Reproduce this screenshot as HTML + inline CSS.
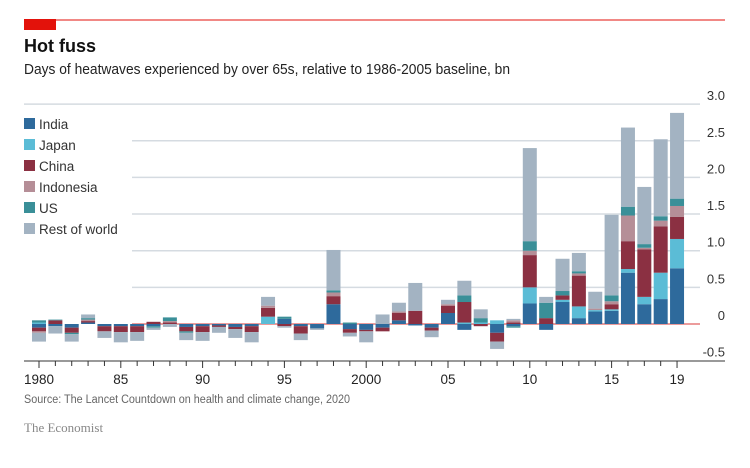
<!DOCTYPE html>
<html><head><meta charset="utf-8"><style>
body{margin:0;background:#fff;font-family:"Liberation Sans",sans-serif;}
svg{display:block}
</style></head><body>
<svg id="chart" width="750" height="468">
  <rect x="24" y="19" width="32" height="11" fill="#e3120b"/>
  <line x1="24" y1="20" x2="725" y2="20" stroke="#e3120b" stroke-width="1"/>
  <text x="24" y="52" font-size="18" font-weight="bold" fill="#111">Hot fuss</text>
  <text x="24" y="74" font-size="14.5" fill="#222" textLength="486" lengthAdjust="spacingAndGlyphs">Days of heatwaves experienced by over 65s, relative to 1986-2005 baseline, bn</text>
  <g id="grid"></g>
  <g id="bars"></g>
  <g id="axis"></g>
  <g id="legend"></g>
  <text x="24" y="403" font-size="11.5" fill="#666" textLength="326" lengthAdjust="spacingAndGlyphs">Source: The Lancet Countdown on health and climate change, 2020</text>
  <text x="24" y="432" font-size="13" fill="#888" font-family="Liberation Serif, serif">The Economist</text>
</svg>
<script>
const years=[];for(let y=1980;y<=2019;y++)years.push(y);
const seriesNames=["India","Japan","China","Indonesia","US","Rest of world"];
const colors=["#2e6a9c","#5bbcd6","#8b3042","#b58e97","#3a8f98","#a3b3c2"];
const india=[-0.05,-0.03,-0.05,0.02,-0.03,-0.03,-0.03,-0.03,0,-0.04,-0.03,-0.02,-0.04,-0.03,0,0.07,-0.03,-0.06,0.27,-0.07,-0.08,-0.05,0.05,-0.02,-0.05,0.15,-0.08,0,-0.12,-0.03,0.28,-0.08,0.3,0.08,0.17,0.18,0.7,0.27,0.34,0.76];
const japan=[0.02,0,0,0,0,0,0,0,0,0,0,0,0,0,0.1,0,0,0,0,0,0,0,0,0,0,0,0.02,0.02,0.05,0,0.22,0,0.03,0.16,0.02,0.02,0.05,0.1,0.36,0.4];
const china=[-0.05,0.05,-0.07,0.02,-0.07,-0.08,-0.08,0.03,0.02,-0.06,-0.08,-0.02,-0.03,-0.08,0.12,-0.03,-0.1,0,0.11,-0.05,-0.02,-0.05,0.1,0.18,-0.04,0.1,0.28,-0.03,-0.12,0.02,0.44,0.08,0.06,0.42,0,0.07,0.38,0.65,0.63,0.3];
const indonesia=[-0.02,0,0,0.02,0,0,0,0,0.02,0,0,0,0,0,0.03,0,0,0,0.05,0,0,0,0.02,0,0,0.02,0,0,0,0.03,0.06,0,0,0.03,0.02,0.04,0.35,0.02,0.08,0.15];
const us=[0.03,0.01,-0.02,0.02,0,0,0,-0.02,0.05,-0.02,0,0,0,0,0,0.03,0,0,0.03,0.02,0,0,0,0,0,0,0.09,0.06,0,-0.02,0.13,0.21,0.06,0.03,0,0.08,0.12,0.05,0.06,0.1];
const rest=[-0.12,-0.1,-0.1,0.05,-0.09,-0.14,-0.12,-0.03,-0.04,-0.1,-0.12,-0.08,-0.12,-0.14,0.12,-0.02,-0.09,-0.02,0.55,-0.05,-0.15,0.13,0.12,0.38,-0.09,0.06,0.2,0.12,-0.1,0.02,1.27,0.08,0.44,0.25,0.23,1.1,1.08,0.78,1.05,1.17];
const series=[india,japan,china,indonesia,us,rest];
const yTicks=[3.0,2.5,2.0,1.5,1.0,0.5,0,-0.5];
const yTickLabels=["3.0","2.5","2.0","1.5","1.0","0.5","0","-0.5"];
const xTickLabels={1980:"1980",1985:"85",1990:"90",1995:"95",2000:"2000",2005:"05",2010:"10",2015:"15",2019:"19"};
const NS="http://www.w3.org/2000/svg";
function yScale(v){return 324-v*73.3;}
function xScale(yr){return 39+(yr-1980)*16.36;}
function mk(tag,attrs,parent){const e=document.createElementNS(NS,tag);for(const k in attrs)e.setAttribute(k,attrs[k]);parent.appendChild(e);return e;}
const grid=document.getElementById('grid');
yTicks.forEach((t,i)=>{
  const y=yScale(t);
  if(t===-0.5)return;
  const g=mk('line',{x1:(t===3?24:132),x2:700,y1:y,y2:y,stroke:t===0?"#e06060":"#d5dbe1","stroke-width":t===0?1.2:1.5},grid);
  
  
});
yTicks.forEach((t,i)=>{
  const tx=mk('text',{x:725,y:yScale(t)-4,"font-size":13,fill:"#333","text-anchor":"end"},grid);
  tx.textContent=yTickLabels[i];
  
  
});
const bars=document.getElementById('bars');
years.forEach((yr,i)=>{
  let pos=0,neg=0;const x=xScale(yr)-7;
  series.forEach((s,k)=>{
    const v=s[i];if(v===0)return;
    let y0,y1;
    if(v>0){y0=pos;y1=pos+v;pos=y1;}else{y0=neg;y1=neg+v;neg=y1;}
    const r=mk('rect',{x:x,width:14,y:Math.min(yScale(y0),yScale(y1)),height:Math.abs(yScale(y0)-yScale(y1)),fill:colors[k]},bars);
    
    
  });
});
const axis=document.getElementById('axis');
const base=mk('line',{x1:24,x2:725,y1:361,y2:361,stroke:"#333","stroke-width":1},axis);


years.forEach(yr=>{
  const x=xScale(yr);
  const lab=xTickLabels[yr];
  const tk=mk('line',{x1:x,x2:x,y1:361,y2:lab?368:366,stroke:"#333","stroke-width":1},axis);
  
  
  if(lab){
    const t=mk('text',{x:x,y:384,"font-size":13.5,fill:"#222","text-anchor":"middle"},axis);
    t.textContent=lab;
    
    
  }
});
const legend=document.getElementById('legend');
seriesNames.forEach((n,k)=>{
  const y=124+k*21;
  const sq=mk('rect',{x:24,y:y-6,width:11,height:11,fill:colors[k]},legend);
  
  
  const t=mk('text',{x:39,y:y+5,"font-size":13.5,fill:"#333"},legend);
  t.textContent=n;
  
  
});
</script>
</body></html>
